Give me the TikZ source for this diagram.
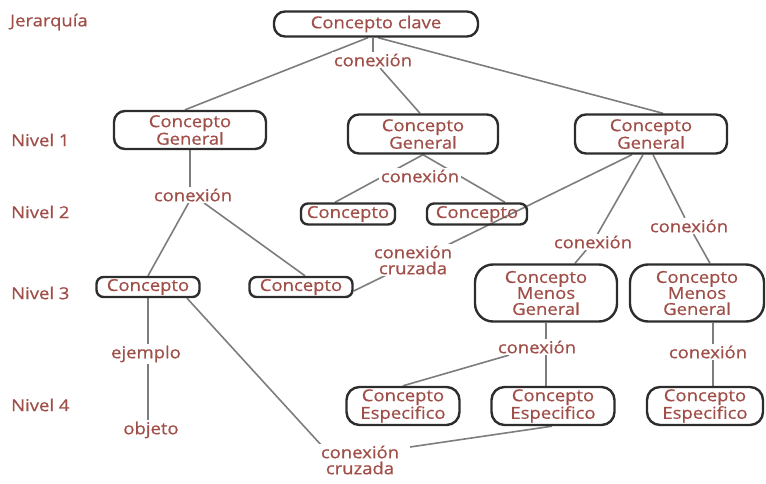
\documentclass[tikz,border=0pt]{standalone}
\usepackage{fontspec}
\setmainfont{Open Sans}[FakeStretch=1.12,FakeBold=0.6]
\usetikzlibrary{backgrounds}
\definecolor{txt}{RGB}{160,78,72}
\definecolor{brd}{RGB}{45,45,45}
\definecolor{lin}{RGB}{125,125,125}
\newcommand\mainfs{\fontsize{16.5}{16}\selectfont}
\begin{document}
\begin{tikzpicture}[x=1pt,y=-1pt,
 box/.style={draw=brd, line width=2.4pt, rounded corners=11pt, text=txt, align=center, inner sep=0pt, font=\mainfs},
 lab/.style={fill=white, text=txt, align=center, inner sep=1.5pt, font=\mainfs},
 lvl/.style={anchor=west, text=txt, font=\mainfs, inner sep=0pt},
 con/.style={draw=lin, line width=1.6pt}]
\useasboundingbox (0,0) rectangle (766,484);
% level labels
\node[lvl] (jer) at (10,22) {Jerarquía};
\node[lvl] (n1) at (11,140) {Nivel 1};
\node[lvl] (n2) at (11,212) {Nivel 2};
\node[lvl] (n3) at (11,293) {Nivel 3};
\node[lvl] (n4) at (11,405) {Nivel 4};
% concept boxes
\node[box, minimum width=204pt, minimum height=25pt] (clave) at (376,24) {Concepto clave};
\node[box, minimum width=152pt, minimum height=38pt] (cg1) at (190,130) {Concepto\\General};
\node[box, minimum width=150pt, minimum height=39pt] (cg2) at (423,134) {Concepto\\General};
\node[box, minimum width=152pt, minimum height=39pt] (cg3) at (651,134) {Concepto\\General};
\node[box, minimum width=94pt, minimum height=21pt, rounded corners=7pt] (a2) at (348,214) {Concepto};
\node[box, minimum width=100pt, minimum height=21pt, rounded corners=7pt] (b2) at (477,214) {Concepto};
\node[box, minimum width=103pt, minimum height=20pt, rounded corners=7pt] (l3a) at (148,287) {Concepto};
\node[box, minimum width=103pt, minimum height=20pt, rounded corners=7pt] (l3b) at (301,287) {Concepto};
\node[box, minimum width=142pt, minimum height=57pt, rounded corners=18pt] (cmg1) at (546,293) {Concepto\\Menos\\General};
\node[box, minimum width=134pt, minimum height=57pt, rounded corners=18pt] (cmg2) at (697,293) {Concepto\\Menos\\General};
\node[box, minimum width=113pt, minimum height=38pt, rounded corners=13pt] (ce1) at (403,406) {Concepto\\Especifico};
\node[box, minimum width=123pt, minimum height=38pt, rounded corners=13pt] (ce2) at (553,406) {Concepto\\Especifico};
\node[box, minimum width=116pt, minimum height=38pt, rounded corners=13pt] (ce3) at (705,406) {Concepto\\Especifico};
% link labels
\node[lab] (c0) at (373,60) {conexión};
\node[lab] (c1) at (193,195) {conexión};
\node[lab] (c2) at (420,176) {conexión};
\node[lab] (cc1) at (413,260) {conexión\\cruzada};
\node[lab] (c3) at (593,242) {conexión};
\node[lab] (c4) at (689,226) {conexión};
\node[lab] (c5) at (537,347) {conexión};
\node[lab] (c6) at (708,352) {conexión};
\node[lab] (ej) at (146,354) {ejemplo};
\node[lab] (ob) at (151,430) {objeto};
\node[lab] (cc2) at (360,460) {conexión\\cruzada};
% connectors
\begin{scope}[on background layer]
\draw[con] ([xshift=-8pt]clave.south) -- ([xshift=-5pt]cg1.north);
\draw[con] ([xshift=-3pt]clave.south) -- (c0);
\draw[con] (c0) -- ([xshift=-3pt]cg2.north);
\draw[con] ([xshift=2pt]clave.south) -- ([xshift=12pt]cg3.north);
\draw[con] (cg2.south) -- ([xshift=-13pt]a2.north);
\draw[con] (cg2.south) -- ([xshift=28pt]b2.north);
\draw[con] (cg1.south) -- (cg1.south |- c1.center);
\draw[con] (c1) -- (l3a.north);
\draw[con] (c1) -- ([xshift=4pt]l3b.north);
\draw[con] ([yshift=-4pt]l3b.east) -- ([xshift=-19pt]cg3.south);
\draw[con] ([xshift=-8pt]cg3.south) -- (c3);
\draw[con] (c3) -- ([xshift=29pt]cmg1.north);
\draw[con] ([xshift=2pt]cg3.south) -- (c4);
\draw[con] (c4) -- ([xshift=13pt]cmg2.north);
\draw[con] (cmg1.south) -- (cmg1.south |- ce2.north);
\draw[con] (c5) -- (ce1.north);
\draw[con] ([xshift=16pt]cmg2.south) -- ([xshift=8pt]ce3.north);
\draw[con] ([xshift=39pt]l3a.south) -- ([xshift=-27pt,yshift=2pt]cc2.center);
\draw[con] ([xshift=-1pt]ce2.south) -- ([xshift=50pt,yshift=13pt]cc2.center);
\draw[con] (l3a.south) -- (l3a.south |- ob.north);
\end{scope}
\end{tikzpicture}
\end{document}
